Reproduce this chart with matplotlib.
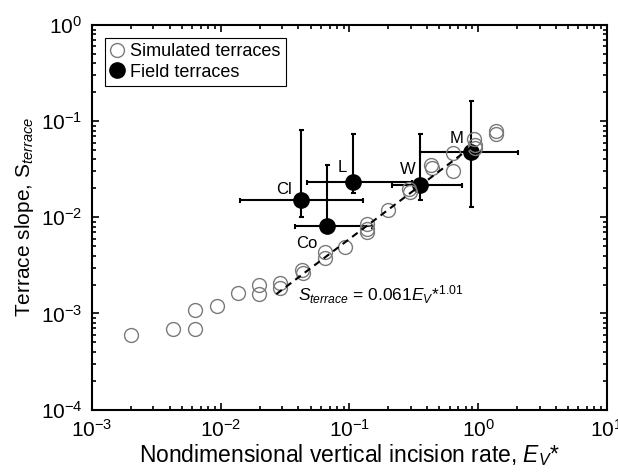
import numpy as np
import matplotlib
matplotlib.use('Agg')
import matplotlib.pyplot as plt

plt.rcParams['font.family'] = ['Liberation Sans', 'DejaVu Sans']
plt.rcParams['mathtext.fontset'] = 'custom'
plt.rcParams['mathtext.rm'] = 'Liberation Sans'
plt.rcParams['mathtext.it'] = 'Liberation Sans:italic'
plt.rcParams['mathtext.bf'] = 'Liberation Sans:bold'

# Simulated terraces (open circles)
sim_E = [0.00201, 0.00426, 0.00631, 0.00631, 0.00935, 0.0136, 0.0198, 0.0198,
         0.0288, 0.0288, 0.0428, 0.0434, 0.0646, 0.0646, 0.0922, 0.137, 0.137,
         0.137, 0.199, 0.290, 0.294, 0.430, 0.438, 0.637, 0.637, 0.927, 0.943,
         0.943, 1.374, 1.374]
sim_S = [5.94e-4, 6.87e-4, 6.87e-4, 1.08e-3, 1.19e-3, 1.63e-3, 1.97e-3, 1.59e-3,
         2.07e-3, 1.83e-3, 2.82e-3, 2.63e-3, 4.35e-3, 3.76e-3, 4.90e-3, 8.50e-3,
         7.54e-3, 7.02e-3, 0.0119, 0.0197, 0.0183, 0.0349, 0.0325, 0.0466, 0.0303,
         0.0651, 0.0564, 0.0525, 0.0789, 0.0734]

# Field terraces (filled circles with error ranges)
field_names = ['Cl', 'L', 'Co', 'W', 'M']
field_E = [0.042, 0.106, 0.067, 0.353, 0.873]
field_S = [0.0151, 0.0234, 0.0081, 0.0216, 0.0477]
field_E_lo = [0.0141, 0.047, 0.038, 0.213, 0.353]
field_E_hi = [0.127, 0.305, 0.149, 0.75, 2.05]
field_S_lo = [0.0100, 0.0179, 0.0073, 0.0151, 0.0127]
field_S_hi = [0.0808, 0.0734, 0.0349, 0.0734, 0.163]

# Fit: S = 0.061 E^1.01
fit_coef = 0.061
fit_exp = 1.01
fit_E = [0.027, 0.95]

fig = plt.figure(figsize=(6.18, 4.74), dpi=100)
ax = fig.add_axes([0.149, 0.136, 0.833, 0.811])

E = np.array(field_E)
S = np.array(field_S)
xerr = [E - np.array(field_E_lo), np.array(field_E_hi) - E]
yerr = [S - np.array(field_S_lo), np.array(field_S_hi) - S]
ax.errorbar(E, S, xerr=xerr, yerr=yerr, fmt='none', ecolor='black',
            elinewidth=1.5, capsize=1.8, capthick=1.5, zorder=2)
field_h, = ax.plot(E, S, 'o', color='black', markersize=11, zorder=3,
                   label='Field terraces')

sim_h, = ax.plot(sim_E, sim_S, 'o', mfc='none', mec='#7a7a7a', mew=1.0,
                 markersize=10, zorder=4, label='Simulated terraces')

fe = np.array(fit_E)
ax.plot(fe, fit_coef * fe ** fit_exp, color='black', lw=1.5,
        dashes=(3.3, 2.4), zorder=5)

# point labels
offsets = {'Cl': (-17, 11), 'L': (-10, 14), 'Co': (-20, -17),
           'W': (-12, 16), 'M': (-14, 14)}
for name, x, y in zip(field_names, field_E, field_S):
    ax.annotate(name, (x, y), xytext=offsets[name], textcoords='offset pixels',
                ha='center', va='center', fontsize=12)

ax.text(0.0398, 1.55e-3, r'$\mathit{S}_{\mathit{terrace}}$ = 0.061$\mathit{E}_{\mathit{V}}$*$^{1.01}$',
        fontsize=12.5, ha='left', va='center')

ax.set_xscale('log')
ax.set_yscale('log')
ax.set_xlim(1e-3, 1e1)
ax.set_ylim(1e-4, 1e0)

ax.set_xlabel(r'Nondimensional vertical incision rate, $\mathit{E}_{\mathit{V}}$*',
              fontsize=16.5, labelpad=1)
ax.set_ylabel(r'Terrace slope, S$_{\mathit{terrace}}$', fontsize=15, labelpad=3)

ax.tick_params(which='both', direction='in', top=True, right=True,
               labelsize=15, width=1.2)
ax.tick_params(which='major', length=5, pad=7)
ax.tick_params(which='minor', length=3)
for sp in ax.spines.values():
    sp.set_linewidth(1.5)

leg = ax.legend(handles=[sim_h, field_h], loc='upper left', fontsize=13,
                fancybox=False, edgecolor='black', framealpha=1,
                handlelength=0.8, handletextpad=0.3, borderpad=0.3,
                labelspacing=0.2, borderaxespad=0.7)
leg.get_frame().set_linewidth(0.8)

fig.savefig('out.png', dpi=100)
